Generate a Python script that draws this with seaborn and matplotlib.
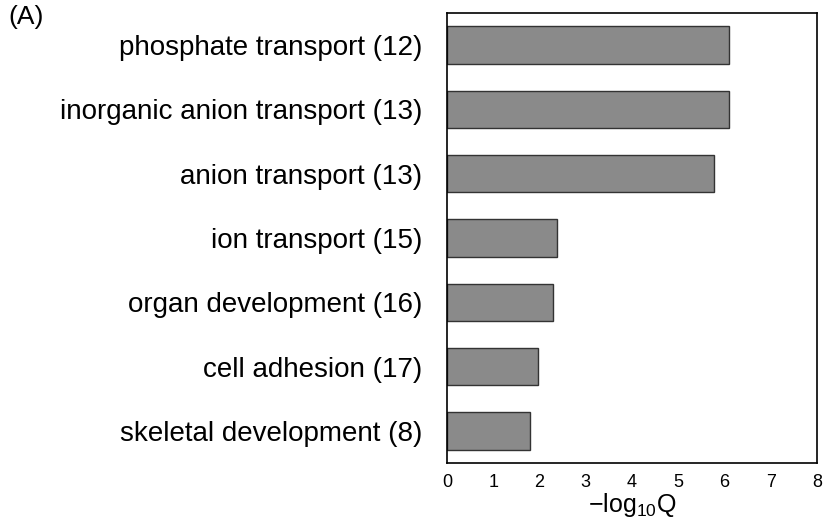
import pandas as pd
import matplotlib.pyplot as plt
import seaborn as sns

terms = ["phosphate transport (12)", "inorganic anion transport (13)", "anion transport (13)",
         "ion transport (15)", "organ development (16)", "cell adhesion (17)",
         "skeletal development (8)"]
neg_log_q = [6.09, 6.09, 5.78, 2.37, 2.3, 1.96, 1.8]

df = pd.DataFrame({"term": terms, "value": neg_log_q})

sns.set_style("white")
plt.rcParams['font.family'] = ['Liberation Sans', 'DejaVu Sans']

fig = plt.figure(figsize=(8.33, 5.2), dpi=100)
ax = fig.add_axes([447 / 833, 57 / 520, 370 / 833, 450 / 520])

sns.barplot(data=df, x="value", y="term", color="#8a8a8a", edgecolor="#333333",
            linewidth=1, width=0.58, saturation=1, ax=ax)

ax.set_xlim(0, 8)
ax.set_ylim(6.5, -0.5)
ax.set_xticks(range(9))
ax.tick_params(axis='x', labelsize=13, length=0, pad=8, labelcolor="black")
ax.tick_params(axis='y', labelsize=20, length=0, pad=18, labelcolor="black")
ax.set_ylabel("")
ax.set_xlabel(r"$\mathregular{-log_{10}Q}$", fontsize=18, labelpad=0, color="black")
for s in ax.spines.values():
    s.set_color("black")
    s.set_linewidth(1.2)

fig.text(8 / 833, 1 - 17 / 520, "(A)", fontsize=19, va="center", ha="left", color="black")

plt.savefig("out.png", dpi=100)
